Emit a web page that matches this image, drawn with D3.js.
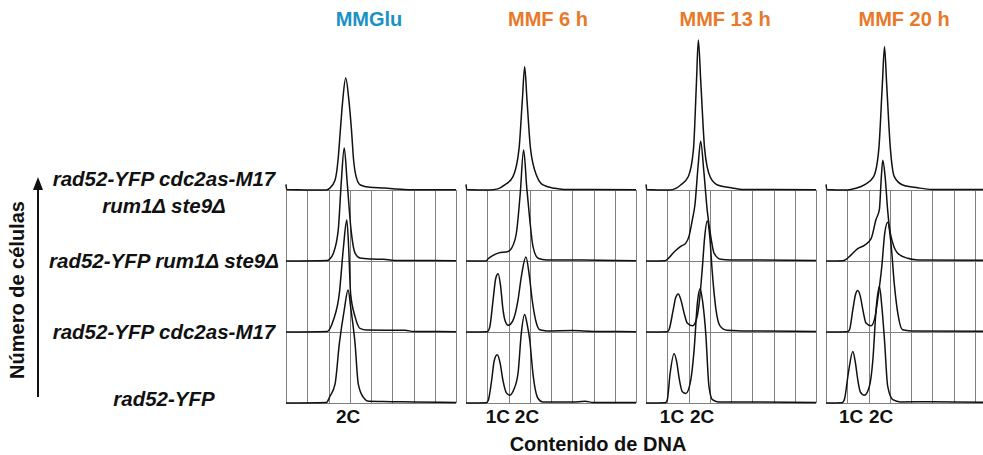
<!DOCTYPE html>
<html>
<head>
<meta charset="utf-8">
<script src="https://d3js.org/d3.v7.min.js"></script>
<style>
body { margin: 0; background: #fff; }
text { font-family: "Liberation Sans", Arial, sans-serif; font-weight: 700; fill: #111; }
text.title { font-size: 20px; }
text.strain { font-size: 20.5px; font-style: italic; }
text.tick { font-size: 19px; }
text.axisTitle { font-size: 20px; }
.grid line { stroke: #808080; stroke-width: 1; shape-rendering: crispEdges; }
path.trace { fill: none; stroke: #111; stroke-width: 1.5; stroke-linejoin: round; }
</style>
</head>
<body>
<script>
const width = 983;
const height = 455;

// panels (columns) and strains (rows, bottom to top)
const panelNames  = ["MMGlu", "MMF 6 h", "MMF 13 h", "MMF 20 h"];
const panelColors = ["#1a92c4", "#e8792b", "#e8792b", "#e8792b"];
const strainLabels = [
   ["rad52-YFP"],
   ["rad52-YFP cdc2as-M17"],
   ["rad52-YFP rum1\u0394 ste9\u0394"],
   ["rad52-YFP cdc2as-M17", "rum1\u0394 ste9\u0394"]
];

// DNA content tick labels: [label, channel]
const ticksGlu = [["2C", 2.92]];
const ticksF6  = [["1C", 1.5], ["2C", 2.87]];
const ticksF13 = [["1C", 1.22], ["2C", 2.64]];
const ticksF20 = [["1C", 1.18], ["2C", 2.59]];

// histograms: [channel (grid units), cell count (relative)] ; rows bottom -> top
const glu = [
   [[0,0],[1.9,0.5],[2.07,6],[2.31,17],[2.51,53],[2.74,83],[2.92,101],[3.06,83],[3.25,53],[3.4,17],[3.64,5],[3.9,1.5],[5,1.2],[6,0.8],[8,0.5]],
   [[0,0],[1.95,0.5],[2.07,3],[2.23,10.7],[2.51,34.5],[2.7,75],[2.86,100],[2.95,75],[3.04,34.5],[3.25,13.7],[3.48,3.3],[3.8,1.8],[5.6,1.5],[6,0.5],[8,0.3]],
   [[0,0],[1.95,0.5],[2.07,2],[2.23,7],[2.46,28],[2.6,70],[2.74,101],[2.88,70],[3.06,28],[3.25,7],[3.48,2.7],[4.0,1.8],[4.6,1.5],[5.1,0.5],[8,0.3]],
   [[0,5],[0.03,0.5],[1.9,0],[2.05,1.5],[2.31,9],[2.45,27],[2.56,54],[2.67,80],[2.81,100],[2.96,80],[3.08,54],[3.18,27],[3.3,12],[3.5,4.5],[3.95,2.4],[4.66,1.8],[5.13,1],[5.8,0.3],[8,0.3]]
];
const f6 = [
   [[0,0],[0.95,0.3],[1.04,2],[1.19,18],[1.33,38],[1.47,43],[1.6,36],[1.74,20],[1.9,9],[2.06,7],[2.25,12],[2.45,27],[2.6,62],[2.76,79],[2.88,70],[3.0,56],[3.15,26],[3.39,4],[3.6,1],[5,0.8],[5.6,1.5],[6,0.5],[8,0.5]],
   [[0,0],[1.0,0.3],[1.12,4.7],[1.27,28],[1.4,48],[1.51,52],[1.62,42],[1.74,20],[1.84,10],[1.98,6],[2.2,10],[2.45,29],[2.6,49],[2.82,67],[2.98,50],[3.11,29],[3.31,8],[3.47,2],[3.8,1],[5,1.3],[6,0.5],[8,0.3]],
   [[0,0],[0.95,0],[1.04,2],[1.27,5],[1.51,7],[1.98,8.5],[2.13,11],[2.37,25],[2.55,60],[2.71,99],[2.86,65],[3.0,37],[3.15,13],[3.39,2.5],[3.8,1],[5.5,0.8],[8,0.3]],
   [[0,5],[0.03,0.5],[1.1,0],[1.5,1],[1.82,4.5],[2.21,12],[2.49,36],[2.65,80],[2.76,110],[2.87,80],[3.04,36],[3.34,12],[3.62,4.5],[4.17,1.5],[4.6,0.5],[8,0.3]]
];
const f13 = [
   [[0,0],[0.9,0.3],[1.0,3],[1.13,26],[1.32,44],[1.45,36],[1.55,23],[1.71,10],[1.87,8.5],[2.1,20],[2.26,47],[2.42,90],[2.54,102],[2.68,88],[2.81,62],[2.96,15],[3.12,3],[3.4,1],[5,1],[8,0.5]],
   [[0,0],[1.0,0.3],[1.08,2],[1.28,20],[1.4,31],[1.52,34],[1.65,28],[1.79,17],[1.94,8],[2.18,5.5],[2.35,10],[2.49,24],[2.64,55],[2.76,85],[2.88,99],[3.0,85],[3.11,55],[3.29,20],[3.48,5.5],[3.81,1.5],[4.5,1],[8,0.5]],
   [[0,0],[0.9,0.3],[1.0,1.5],[1.32,8],[1.63,13],[1.87,16],[2.02,22],[2.18,37],[2.3,50],[2.45,85],[2.57,107],[2.72,80],[2.88,45],[3.07,19],[3.2,7],[3.52,1.5],[4.0,1],[8,0.5]],
   [[0,5],[0.03,0.5],[1.1,0],[1.4,1.5],[1.63,4.5],[1.99,12],[2.23,36],[2.37,95],[2.46,134],[2.58,95],[2.76,36],[3.01,12],[3.36,4.5],[4.0,2],[4.6,0.5],[8,0.3]]
];
const f20 = [
   [[0,0],[0.75,0.3],[0.86,3],[1.05,27],[1.26,46],[1.38,36],[1.49,21],[1.61,10],[1.8,7],[2.04,15],[2.2,38],[2.36,85],[2.51,104],[2.63,85],[2.75,56],[2.9,15],[3.14,3],[3.5,1],[5,1.2],[8,0.5]],
   [[0,0],[1.0,0.3],[1.1,2],[1.26,20],[1.38,33],[1.49,37],[1.61,32],[1.73,20],[1.88,8],[2.12,5.5],[2.3,13],[2.43,29],[2.62,58],[2.76,88],[2.9,98],[3.05,80],[3.21,43],[3.4,14],[3.6,2],[4.0,1],[8,0.5]],
   [[0,0],[0.8,0.3],[0.9,1],[1.18,5.5],[1.49,11],[1.8,14],[2.12,20],[2.35,37],[2.51,46],[2.6,75],[2.67,90],[2.78,75],[2.9,45],[2.98,30],[3.14,16],[3.37,7],[3.84,2.4],[4.3,1],[8,0.5]],
   [[0,5],[0.03,0.5],[1.0,0],[1.4,1.5],[1.8,4.5],[2.24,12],[2.48,36],[2.65,95],[2.75,128],[2.85,95],[3.03,36],[3.21,12],[3.61,4.5],[4.31,2],[5,0.5],[8,0.3]]
];

const panelTraces = [glu, f6, f13, f20];
const panelTicks  = [ticksGlu, ticksF6, ticksF13, ticksF20];
const titleOffset = [83, 82, 79, 78];

const svg = d3.select("body").append("svg")
   .attr("width", width)
   .attr("height", height);

// column positions
const px = d3.scaleBand()
   .domain(panelNames)
   .range([286, 286 + 4 * 178])
   .paddingInner(8 / 178)
   .paddingOuter(0);

const x = d3.scaleLinear().domain([0, 8]).range([0, 170]);
const y = d3.scaleLinear().domain([0, 100]).range([0, -112]);
// baseline of each row
const row = d3.scaleLinear().domain([0, 3]).range([403, 190]);

const line = d3.line()
   .x(d => x(d[0]))
   .y(d => y(d[1]))
   .curve(d3.curveMonotoneX);

panelNames.forEach((name, p) => {
   const g = svg.append("g").attr("transform", `translate(${px(name)},0)`);

   // grid
   const grid = g.append("g").attr("class", "grid");
   grid.selectAll("line.v")
      .data(d3.range(0, 9))
      .enter().append("line")
      .attr("class", "v")
      .attr("x1", d => Math.round(x(d)) + 0.5)
      .attr("x2", d => Math.round(x(d)) + 0.5)
      .attr("y1", row(3))
      .attr("y2", row(0));
   grid.selectAll("line.h")
      .data([0, 1, 2, 3])
      .enter().append("line")
      .attr("class", "h")
      .attr("x1", x(0))
      .attr("x2", x(8))
      .attr("y1", d => row(d))
      .attr("y2", d => row(d));

   // histograms
   g.selectAll("path.trace")
      .data(panelTraces[p])
      .enter().append("path")
      .attr("class", "trace")
      .attr("transform", (d, i) => `translate(0,${row(i)})`)
      .attr("d", line);

   // title
   g.append("text")
      .attr("class", "title")
      .attr("x", titleOffset[p])
      .attr("y", 26)
      .attr("text-anchor", "middle")
      .style("fill", panelColors[p])
      .text(name);

   // DNA content labels
   g.selectAll("text.tick")
      .data(panelTicks[p])
      .enter().append("text")
      .attr("class", "tick")
      .attr("x", d => x(d[1]))
      .attr("y", 423)
      .attr("text-anchor", "middle")
      .text(d => d[0]);
});

// strain labels
strainLabels.forEach((lines, i) => {
   const t = svg.append("text")
      .attr("class", "strain")
      .attr("text-anchor", "middle");
   const n = lines.length;
   lines.forEach((s, k) => {
      t.append("tspan")
         .attr("x", 164)
         .attr("y", row(i) + (k - (n - 1) / 2) * 27 + (n === 1 ? 0 : 2) + (i === 0 ? -4 : 0))
         .text(s);
   });
   t.selectAll("tspan").attr("dy", "0.35em");
});

// y axis arrow and title
svg.append("line")
   .attr("x1", 38).attr("x2", 38)
   .attr("y1", 397).attr("y2", 188)
   .attr("stroke", "#111")
   .attr("stroke-width", 2);
svg.append("path")
   .attr("d", "M38,177 L33,190 L43,190 Z")
   .attr("fill", "#111");
svg.append("text")
   .attr("class", "axisTitle")
   .attr("transform", "translate(24,290) rotate(-90)")
   .attr("text-anchor", "middle")
   .text("Número de células");

svg.append("text")
   .attr("class", "axisTitle")
   .attr("x", 598)
   .attr("y", 451)
   .attr("text-anchor", "middle")
   .text("Contenido de DNA");
</script>
</body>
</html>
